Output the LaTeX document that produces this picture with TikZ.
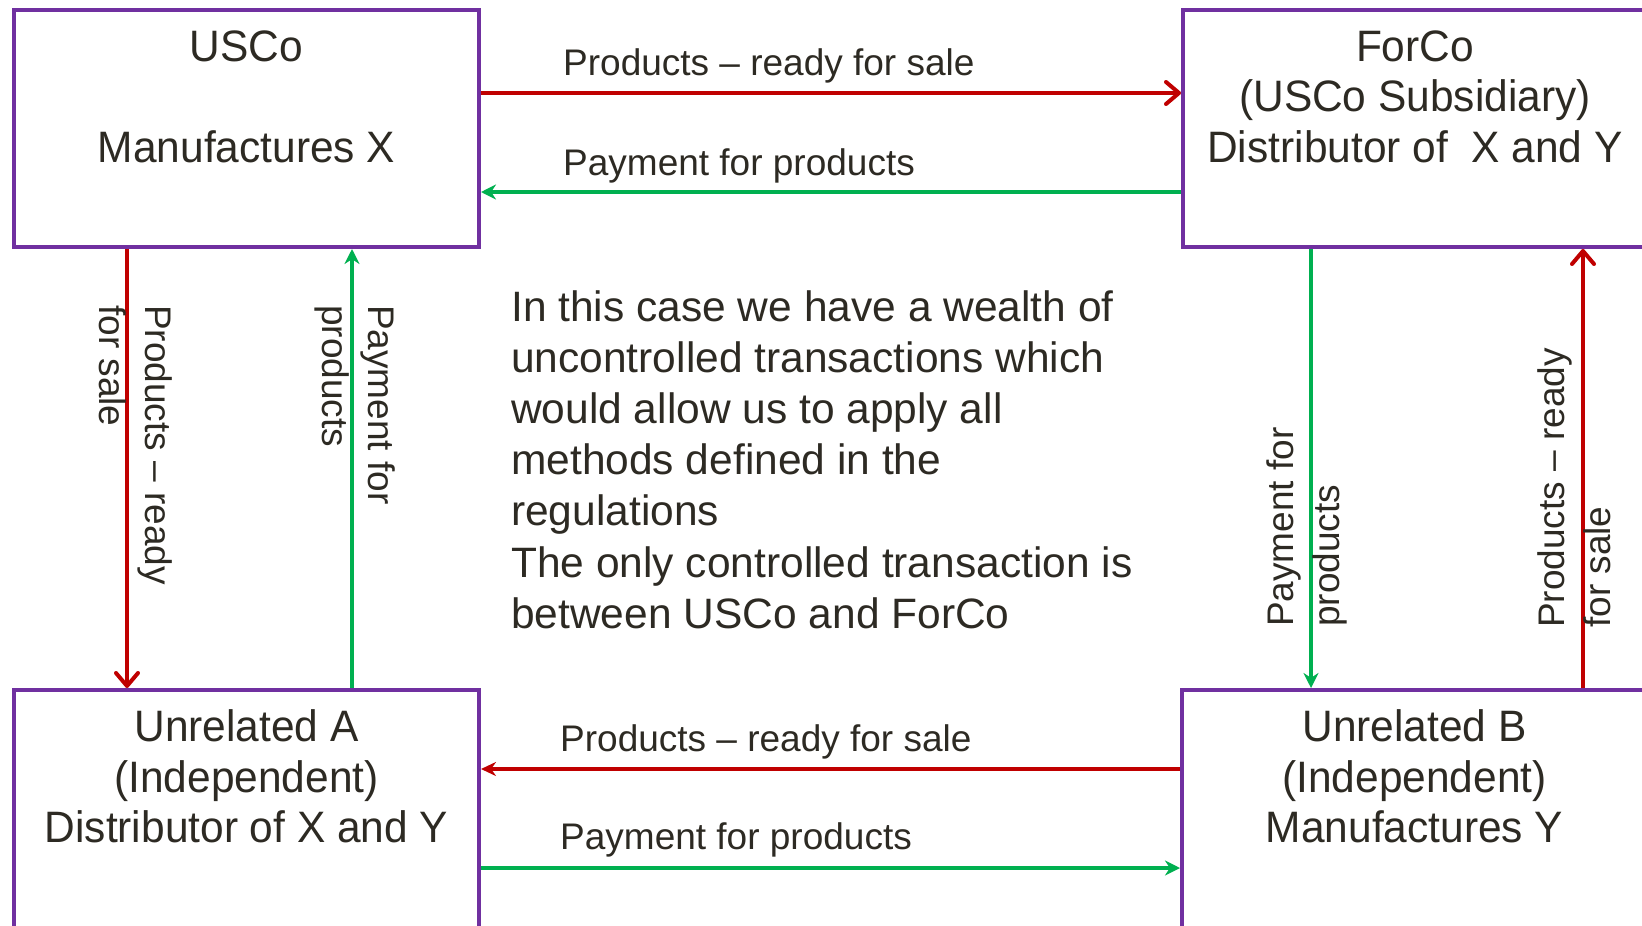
\documentclass[tikz,border=0pt]{standalone}
\usepackage{fontspec}
\setmainfont{Liberation Sans}
\newfontfamily\boxfont{Liberation Sans}[FakeStretch=0.965]
\usetikzlibrary{arrows.meta}
\definecolor{boxpurple}{RGB}{112,48,160}
\definecolor{flowred}{RGB}{192,0,0}
\definecolor{flowgreen}{RGB}{0,176,80}
\definecolor{ink}{RGB}{45,42,35}

\begin{document}
\begin{tikzpicture}[x=1pt,y=-1pt,
  entity/.style={draw=boxpurple, line width=4pt, fill=white, inner sep=0pt,
    minimum width=465pt, minimum height=237.5pt},
  boxtext/.style={anchor=base, inner sep=0pt, text=ink,
    font={\boxfont\fontsize{44}{50.6}\selectfont}},
  flowlabel/.style={anchor=base west, inner sep=0pt, text=ink,
    font={\fontsize{37}{46}\selectfont}},
  notetext/.style={anchor=base west, inner sep=0pt, text=ink,
    font={\fontsize{42.5}{51.2}\selectfont}},
  goods/.style={draw=flowred, line width=4pt,
    -{Straight Barb[length=13pt, width=22pt, round]}},
  goodsfilled/.style={draw=flowred, line width=4pt,
    -{Stealth[length=15pt, width=14pt]}},
  money/.style={draw=flowgreen, line width=4pt,
    -{Stealth[length=15pt, width=15pt]}}
]
\useasboundingbox (0,0) rectangle (1642,926);
\clip (0,0) rectangle (1642,926);
\fill[white] (0,0) rectangle (1642,926);

% the four companies
\node[entity] (usco) at (246.5,128.25) {};
\node[entity, minimum width=464pt] (forco) at (1415,128.25) {};
\node[entity] (unra) at (246.5,808.75) {};
\node[entity] (unrb) at (1414.5,808.75) {};

\node[boxtext] (uscotxt) at (246.5,61)
  {\parbox[t]{460pt}{\centering USCo\\[50.6pt]Manufactures X}};
\node[boxtext] (forcotxt) at (1415,61)
  {\parbox[t]{460pt}{\centering ForCo\\(USCo Subsidiary)\\Distributor of~~X and Y}};
\node[boxtext] (unratxt) at (246.5,741.7)
  {\parbox[t]{460pt}{\centering Unrelated A\\(Independent)\\Distributor of X and Y}};
\node[boxtext] (unrbtxt) at (1414.5,741.7)
  {\parbox[t]{460pt}{\centering Unrelated B\\(Independent)\\Manufactures Y}};

% flows between USCo and ForCo
\draw[goods] ([yshift=-85.5pt]usco.north east) -- ([yshift=-85.5pt]forco.north west);
\draw[money] ([yshift=-184.5pt]forco.north west) -- ([yshift=-184.5pt]usco.north east);
\node[flowlabel] (l1) at (563,75.7) {Products – ready for sale};
\node[flowlabel] (l2) at (563,175) {Payment for products};

% flows between Unrelated B and Unrelated A
\draw[goodsfilled] ([yshift=-81pt]unrb.north west) -- ([yshift=-81pt]unra.north east);
\draw[money] ([yshift=-180pt]unra.north east) -- ([yshift=-180pt]unrb.north west);
\node[flowlabel] (l3) at (560,751.7) {Products – ready for sale};
\node[flowlabel] (l4) at (560,849.3) {Payment for products};

% flows between USCo and Unrelated A
\draw[goods] ([xshift=115pt]usco.south west) -- ([xshift=115pt]unra.north west);
\draw[money] ([xshift=340pt]unra.north west) -- ([xshift=340pt]usco.south west);
\node[flowlabel, rotate=-90] (l5) at (145,305)
  {\parbox[t]{300pt}{\raggedright Products – ready\\for sale}};
\node[flowlabel, rotate=-90] (l6) at (368,305)
  {\parbox[t]{300pt}{\raggedright Payment for\\products}};

% flows between ForCo and Unrelated B
\draw[money] ([xshift=130pt]forco.south west) -- ([xshift=131pt]unrb.north west);
\draw[goods] ([xshift=403pt]unrb.north west) -- ([xshift=402pt]forco.south west);
\node[flowlabel, rotate=90] (l7) at (1293,627)
  {\parbox[t]{300pt}{\raggedright Payment for\\products}};
\node[flowlabel, rotate=90] (l8) at (1564,628)
  {\parbox[t]{300pt}{\raggedright Products – ready\\for sale}};

% explanatory note
\node[notetext] (note) at (511,321)
  {\parbox[t]{640pt}{\raggedright In this case we have a wealth of\\
  uncontrolled transactions which\\
  would allow us to apply all\\
  methods defined in the\\
  regulations\\
  The only controlled transaction is\\
  between USCo and ForCo}};
\end{tikzpicture}
\end{document}
